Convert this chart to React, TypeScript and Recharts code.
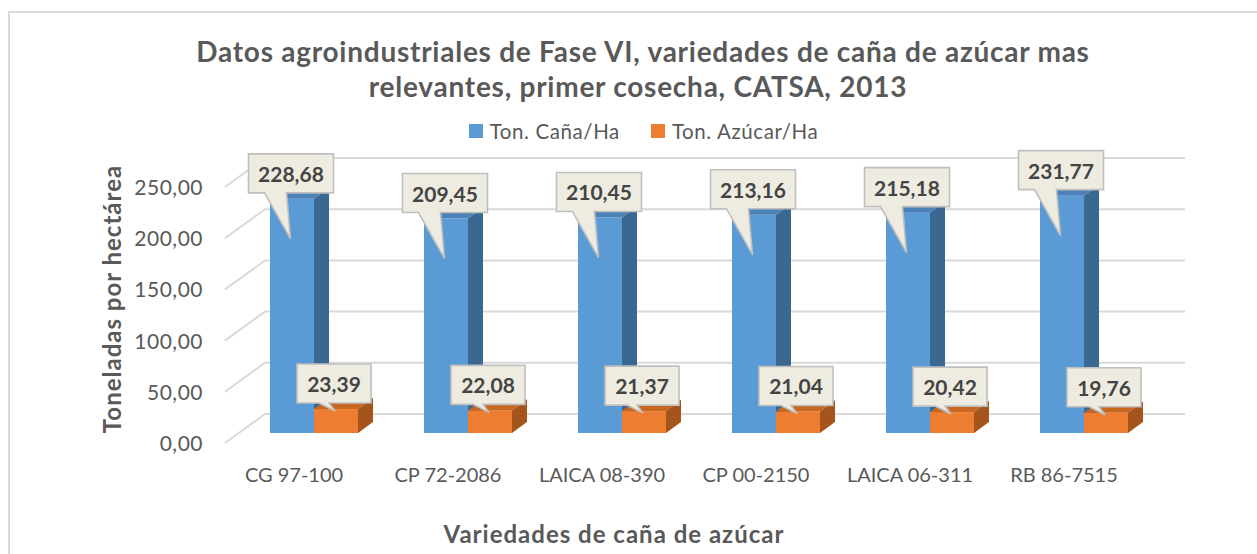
import React from 'react';
import { BarChart, Bar, XAxis, YAxis, CartesianGrid, Legend, LabelList } from 'recharts';

const categories = ['CG 97-100', 'CP 72-2086', 'LAICA 08-390', 'CP 00-2150', 'LAICA 06-311', 'RB 86-7515'];
const canaValues = [228.68, 209.45, 210.45, 213.16, 215.18, 231.77];
const azucarValues = [23.39, 22.08, 21.37, 21.04, 20.42, 19.76];
const yTicks = [0, 50, 100, 150, 200, 250];
const seriesNames = ['Ton. Caña/Ha', 'Ton. Azúcar/Ha'];
const seriesColors = ['#5b9bd5', '#ed7d31'];
const titleLines = ['Datos agroindustriales de Fase VI, variedades de caña de azúcar mas', 'relevantes, primer cosecha, CATSA, 2013'];
const yTitle = 'Toneladas por hectárea';
const xTitle = 'Variedades de caña de azúcar';

const data = categories.map((c, i) => ({ name: c, cana: canaValues[i], azucar: azucarValues[i] }));

const FONT = 'Lato, "Open Sans", sans-serif';
const TEXT = '#595959';
const fmt = (v: number) => Number(v).toFixed(2).replace('.', ',');

const DX = 15;
const DY = 11;

const makeShape = (front: string, top: string, side: string) => (p: any) => {
  const { x, y, width: w, height: h } = p;
  if (w == null || h == null) return null;
  return (
    <g>
      <rect x={x} y={y} width={w} height={h} fill={front} />
      <polygon points={`${x},${y} ${x + DX},${y - DY} ${x + w + DX},${y - DY} ${x + w},${y}`} fill={top} />
      <polygon points={`${x + w},${y} ${x + w + DX},${y - DY} ${x + w + DX},${y + h - DY} ${x + w},${y + h}`} fill={side} />
    </g>
  );
};

const getBox = (p: any) => {
  const vb = p.viewBox || {};
  const x = p.x ?? vb.x;
  const y = p.y ?? vb.y;
  const w = p.width ?? vb.width;
  return { x, y, w };
};

const BlueCallout = (p: any) => {
  const { x, y, w } = getBox(p);
  const bw = 85, bh = 39;
  const left = x + w / 2 - 1 - bw / 2;
  const bottom = y - 6;
  const top = bottom - bh;
  const d = `M${left},${top} H${left + bw} V${bottom} H${left + 38} L${left + 42},${bottom + 46} L${left + 16},${bottom} H${left} Z`;
  return (
    <g>
      <path d={d} fill="#eeece1" stroke="#bfbfbf" strokeWidth={1.6} />
      <text x={left + bw / 2} y={top + 28} textAnchor="middle" fill="#444444" fontSize={21} fontWeight={700} fontFamily={FONT}>
        {fmt(p.value)}
      </text>
    </g>
  );
};

const OrangeCallout = (p: any) => {
  const { x, y, w } = getBox(p);
  const bw = 74, bh = 39;
  const left = x + w / 2 - 2 - bw / 2;
  const bottom = y - 6;
  const top = bottom - bh;
  const d = `M${left},${top} H${left + bw} V${bottom} H${left + 32} L${left + 38},${bottom + 8} L${left + 22},${bottom} H${left} Z`;
  return (
    <g>
      <path d={d} fill="#eeece1" stroke="#bfbfbf" strokeWidth={1.6} />
      <text x={left + bw / 2} y={top + 28} textAnchor="middle" fill="#444444" fontSize={21} fontWeight={700} fontFamily={FONT}>
        {fmt(p.value)}
      </text>
    </g>
  );
};

const YTick = (p: any) => (
  <text x={203} y={p.y + 18} textAnchor="end" fill={TEXT} fontSize={21} letterSpacing={0.5} fontFamily={FONT}>
    {fmt(p.payload.value)}
  </text>
);

const XTick = (p: any) => (
  <text x={p.x - 20} y={482} textAnchor="middle" fill={TEXT} fontSize={20} fontFamily={FONT}>
    {p.payload.value}
  </text>
);

const GridLine = (p: any) => {
  const { x1, x2, y1, index } = p;
  return (
    <path
      key={`g-${index}-${y1}`}
      d={`M${x1 - 12},${y1 + 10} L${x1 + 28},${y1 - 19} L${x2 + 24},${y1 - 19}`}
      fill="none"
      stroke="#d9d9d9"
      strokeWidth={2}
    />
  );
};

const LegendContent = () => (
  <div style={{ display: 'flex', justifyContent: 'center', alignItems: 'center', fontFamily: FONT, fontSize: 20.5, letterSpacing: 0.6, color: TEXT, paddingLeft: 30 }}>
    {seriesNames.map((n, i) => (
      <div key={n} style={{ display: 'flex', alignItems: 'center', marginRight: i === 0 ? 31 : 0 }}>
        <div style={{ width: 14, height: 14, background: seriesColors[i], marginRight: 7 }} />
        <span>{n}</span>
      </div>
    ))}
  </div>
);

export default function App() {
  return (
    <div style={{ position: 'absolute', left: 0, top: 0, width: 1257, height: 554, background: '#fff', overflow: 'hidden' }}>
      <div style={{ position: 'absolute', left: 8, top: 11, width: 1300, height: 600, border: '2px solid #d9d9d9', boxSizing: 'border-box' }} />
      <div style={{ position: 'absolute', left: 0, top: 0 }}>
        <BarChart width={1257} height={554} data={data} margin={{ top: 177, right: 96, bottom: 81, left: 0 }} barGap={0} barSize={44}>
          <CartesianGrid horizontal={GridLine as any} vertical={false} />
          <XAxis dataKey="name" height={40} axisLine={false} tickLine={false} tick={XTick} interval={0} />
          <YAxis width={237} domain={[0, 250]} ticks={yTicks} axisLine={false} tickLine={false} tick={YTick} />
          <Legend verticalAlign="middle" align="center" content={LegendContent} wrapperStyle={{ top: 119, left: 0, width: 1257, height: 26 }} />
          <Bar dataKey="cana" name={seriesNames[0]} fill={seriesColors[0]} isAnimationActive={false} shape={makeShape('#5b9bd5', '#4c82b8', '#3b6891')}>
            <LabelList dataKey="cana" content={BlueCallout} />
          </Bar>
          <Bar dataKey="azucar" name={seriesNames[1]} fill={seriesColors[1]} isAnimationActive={false} shape={makeShape('#ed7d31', '#c8671f', '#a5541c')}>
            <LabelList dataKey="azucar" content={OrangeCallout} />
          </Bar>
        </BarChart>
      </div>
      <svg width={1257} height={554} style={{ position: 'absolute', left: 0, top: 0, pointerEvents: 'none' }}>
        <text x={643} y={62} textAnchor="middle" fill={TEXT} fontSize={28} letterSpacing={0.75} fontWeight={700} fontFamily={FONT}>{titleLines[0]}</text>
        <text x={638} y={97} textAnchor="middle" fill={TEXT} fontSize={28} letterSpacing={0.75} fontWeight={700} fontFamily={FONT}>{titleLines[1]}</text>
        <text transform="translate(121,299) rotate(-90)" textAnchor="middle" fill={TEXT} fontSize={24} letterSpacing={1} fontWeight={700} fontFamily={FONT}>{yTitle}</text>
        <text x={614} y={543} textAnchor="middle" fill={TEXT} fontSize={24} letterSpacing={1} fontWeight={700} fontFamily={FONT}>{xTitle}</text>
      </svg>
    </div>
  );
}
